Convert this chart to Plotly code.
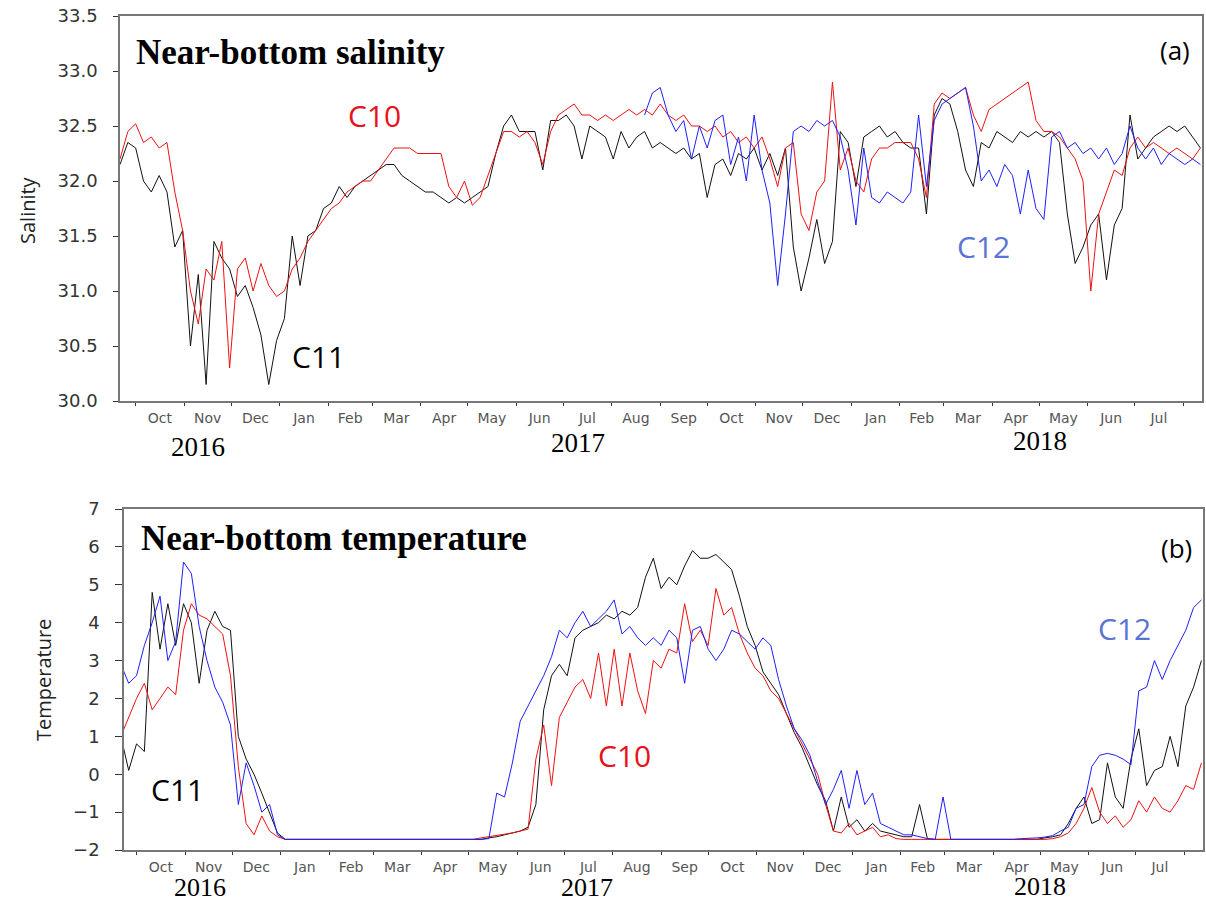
import pandas as pd
import plotly.graph_objects as go

# 5-day samples, starting 2016-09-21
START = "2016-09-21"
STEP = "5D"

SAL_C10 = [
    32.2, 32.45, 32.52, 32.35, 32.4, 32.3, 32.35, 31.9, 31.55, 31.0,
    30.7, 31.2, 31.1, 31.45, 30.3, 31.2, 31.3, 31.0, 31.25, 31.05,
    30.95, 31.0, 31.2, 31.3, 31.45, 31.55, 31.65, 31.75, 31.8, 31.9,
    31.95, 32.0, 32.0, 32.1, 32.2, 32.3, 32.3, 32.3, 32.25, 32.25,
    32.25, 32.25, 31.95, 31.85, 32.0, 31.78, 31.85, 32.05, 32.25, 32.45,
    32.45, 32.4, 32.45, 32.35, 32.15, 32.45, 32.6, 32.65, 32.7, 32.6,
    32.6, 32.55, 32.6, 32.55, 32.6, 32.65, 32.6, 32.65, 32.6, 32.7,
    32.6, 32.55, 32.6, 32.5, 32.5, 32.45, 32.5, 32.4, 32.45, 32.35,
    32.4, 32.3, 32.4, 32.2, 31.95, 32.3, 32.35, 31.7, 31.55, 31.9,
    32.0, 32.9, 32.1, 32.3, 32.0, 31.9, 32.2, 32.3, 32.3, 32.35,
    32.35, 32.35, 32.2, 31.85, 32.7, 32.8, 32.75, 32.8, 32.85, 32.6,
    32.45, 32.65, 32.7, 32.75, 32.8, 32.85, 32.9, 32.55, 32.45, 32.45,
    32.4, 32.3, 32.2, 32.0, 31.0, 31.7, 31.9, 32.1, 32.05, 32.3,
    32.4, 32.3, 32.35, 32.3, 32.25, 32.3, 32.25, 32.2, 32.3,
]

SAL_C11 = [
    32.15, 32.35, 32.3, 32.0, 31.9, 32.05, 31.9, 31.4, 31.55, 30.5,
    31.15, 30.15, 31.45, 31.3, 31.2, 30.95, 31.05, 30.85, 30.6, 30.15,
    30.55, 30.75, 31.5, 31.05, 31.5, 31.55, 31.75, 31.8, 31.95, 31.85,
    31.95, 32.0, 32.05, 32.1, 32.15, 32.15, 32.05, 32.0, 31.95, 31.9,
    31.9, 31.85, 31.8, 31.85, 31.8, 31.85, 31.9, 31.95, 32.25, 32.5,
    32.6, 32.45, 32.45, 32.45, 32.1, 32.55, 32.55, 32.6, 32.5, 32.2,
    32.5, 32.45, 32.4, 32.2, 32.45, 32.3, 32.4, 32.45, 32.3, 32.35,
    32.3, 32.25, 32.3, 32.2, 32.25, 31.85, 32.15, 32.2, 32.05, 32.25,
    32.2, 32.3, 32.1, 32.25, 32.05, 32.3, 31.4, 31.0, 31.3, 31.65,
    31.25, 31.45, 32.45, 32.35, 31.95, 32.4, 32.45, 32.5, 32.4, 32.45,
    32.35, 32.3, 32.3, 31.7, 32.6, 32.75, 32.7, 32.45, 32.1, 31.95,
    32.35, 32.3, 32.45, 32.4, 32.35, 32.45, 32.4, 32.45, 32.4, 32.45,
    32.35, 31.7, 31.25, 31.4, 31.6, 31.7, 31.1, 31.6, 31.75, 32.6,
    32.2, 32.3, 32.4, 32.45, 32.5, 32.45, 32.5, 32.4, 32.3,
]

# C12 salinity has no record before Aug 2017
SAL_C12 = [None] * 67 + [
    32.6, 32.8, 32.85,
    32.6, 32.45, 32.55, 32.2, 32.5, 32.3, 32.55, 32.6, 32.15, 32.4,
    32.0, 32.6, 32.1, 31.8, 31.05, 31.7, 32.45, 32.5, 32.45, 32.55,
    32.5, 32.55, 32.4, 32.1, 31.6, 32.3, 31.85, 31.8, 31.9, 31.85,
    31.8, 31.9, 32.6, 31.95, 32.55, 32.7, 32.75, 32.8, 32.85, 32.5,
    32.0, 32.1, 31.95, 32.15, 32.05, 31.7, 32.1, 31.75, 31.65, 32.4,
    32.45, 32.3, 32.35, 32.25, 32.3, 32.2, 32.3, 32.15, 32.25, 32.5,
    32.3, 32.2, 32.3, 32.15, 32.25, 32.2, 32.15, 32.2, 32.15,
]

TMP_C10 = [
    1.0, 1.5, 2.0, 2.4, 1.7, 2.0, 2.3, 2.1, 3.8, 4.5,
    4.2, 4.1, 3.9, 3.7, 2.6, 0.2, -1.3, -1.6, -1.1, -1.5,
    -1.65, -1.72, -1.72, -1.72, -1.72, -1.72, -1.72, -1.72, -1.72, -1.72,
    -1.72, -1.72, -1.72, -1.72, -1.72, -1.72, -1.72, -1.72, -1.72, -1.72,
    -1.72, -1.72, -1.72, -1.72, -1.72, -1.72, -1.68, -1.65, -1.62, -1.6,
    -1.55, -1.5, -1.45, 0.4, 1.3, -0.3, 1.5, 1.9, 2.3, 2.5,
    2.0, 3.2, 1.8, 3.3, 1.8, 3.2, 2.2, 1.6, 3.0, 2.8,
    3.3, 3.2, 4.5, 3.5, 3.8, 3.4, 4.9, 4.2, 4.4, 3.7,
    3.2, 2.8, 2.6, 2.2, 2.0, 1.6, 1.2, 0.8, 0.4, 0.0,
    -0.8, -1.5, -1.55, -1.3, -1.6, -1.5, -1.4, -1.65, -1.6, -1.7,
    -1.72, -1.72, -1.72, -1.72, -1.72, -1.72, -1.72, -1.72, -1.72, -1.72,
    -1.72, -1.72, -1.72, -1.72, -1.72, -1.72, -1.72, -1.72, -1.72, -1.7,
    -1.65, -1.55, -1.3, -0.9, -0.35, -1.0, -1.3, -1.1, -1.4, -1.2,
    -0.7, -1.0, -0.6, -0.9, -1.0, -0.7, -0.3, -0.4, 0.3,
]

TMP_C11 = [
    1.0, 0.1, 0.8, 0.6, 4.8, 3.3, 4.5, 3.4, 4.5, 4.0,
    2.4, 3.8, 4.3, 3.9, 3.8, 1.0, 0.4, 0.0, -0.5, -1.0,
    -1.55, -1.72, -1.72, -1.72, -1.72, -1.72, -1.72, -1.72, -1.72, -1.72,
    -1.72, -1.72, -1.72, -1.72, -1.72, -1.72, -1.72, -1.72, -1.72, -1.72,
    -1.72, -1.72, -1.72, -1.72, -1.72, -1.72, -1.72, -1.68, -1.65, -1.6,
    -1.55, -1.5, -1.4, -0.8, 1.7, 2.6, 2.9, 2.6, 3.6, 3.8,
    3.9, 4.0, 4.2, 4.1, 4.3, 4.2, 4.4, 5.2, 5.7, 4.9,
    5.2, 5.0, 5.5, 5.9, 5.7, 5.7, 5.8, 5.6, 5.4, 4.7,
    3.9, 3.4, 2.7, 2.4, 2.1, 1.6, 1.1, 0.7, 0.2, -0.3,
    -0.7, -1.5, -0.6, -1.4, -1.2, -1.5, -1.3, -1.5, -1.55, -1.6,
    -1.65, -1.65, -0.8, -1.7, -1.72, -1.72, -1.72, -1.72, -1.72, -1.72,
    -1.72, -1.72, -1.72, -1.72, -1.72, -1.72, -1.72, -1.72, -1.68, -1.65,
    -1.6, -1.3, -0.9, -0.6, -1.3, -1.2, 0.3, -0.6, -0.9, 0.4,
    1.2, -0.3, 0.1, 0.2, 1.0, 0.2, 1.8, 2.3, 3.0,
]

TMP_C12 = [
    2.9, 2.4, 2.6, 3.4, 4.0, 4.7, 3.0, 3.5, 5.6, 5.3,
    3.9, 3.0, 2.3, 1.9, 1.3, -0.8, 0.3, -0.3, -1.0, -0.8,
    -1.6, -1.72, -1.72, -1.72, -1.72, -1.72, -1.72, -1.72, -1.72, -1.72,
    -1.72, -1.72, -1.72, -1.72, -1.72, -1.72, -1.72, -1.72, -1.72, -1.72,
    -1.72, -1.72, -1.72, -1.73, -1.73, -1.73, -1.72, -1.7, -0.5, -0.6,
    0.3, 1.4, 1.8, 2.2, 2.6, 3.1, 3.8, 3.6, 4.0, 4.3,
    3.9, 4.1, 4.3, 4.6, 3.7, 3.9, 3.6, 3.4, 3.6, 3.4,
    3.8, 3.6, 2.4, 3.8, 3.9, 3.3, 3.0, 3.3, 3.8, 3.7,
    3.5, 3.3, 3.6, 3.4, 2.5, 1.8, 1.2, 0.9, 0.5, -0.2,
    -0.8, -0.4, 0.1, -0.9, 0.1, -0.8, -0.5, -1.3, -1.4, -1.5,
    -1.6, -1.6, -1.65, -1.7, -1.72, -0.6, -1.72, -1.72, -1.72, -1.72,
    -1.72, -1.72, -1.72, -1.72, -1.72, -1.7, -1.7, -1.68, -1.66, -1.62,
    -1.5, -1.4, -0.9, -0.8, 0.2, 0.5, 0.55, 0.5, 0.4, 0.25,
    2.2, 2.3, 3.0, 2.5, 3.0, 3.4, 3.8, 4.4, 4.6,
]

dates = pd.date_range(START, periods=len(SAL_C10), freq=STEP)

W, H = 1206, 905


def px(x):
    return x / W


def py(y):
    return 1 - y / H


RED = "#ee1111"
BLACK = "#111111"
BLUE = "#1f1fff"

fig = go.Figure()

for vals, color in [(SAL_C11, BLACK), (SAL_C10, RED), (SAL_C12, BLUE)]:
    fig.add_trace(go.Scatter(x=dates, y=vals, mode="lines", xaxis="x", yaxis="y",
                             line=dict(color=color, width=1), showlegend=False,
                             connectgaps=False))

for vals, color in [(TMP_C11, BLACK), (TMP_C10, RED), (TMP_C12, BLUE)]:
    fig.add_trace(go.Scatter(x=dates, y=vals, mode="lines", xaxis="x2", yaxis="y2",
                             line=dict(color=color, width=1), showlegend=False))

tick_font = dict(family="DejaVu Sans", size=14, color="#555")
ytick_font = dict(family="DejaVu Sans", size=18, color="#333")

xcommon = dict(
    type="date", dtick="M1", tick0="2016-10-01", tickformat="%b",
    ticklabelmode="period", ticks="outside", ticklen=3, tickcolor="#333",
    showgrid=False, showline=True, linecolor="#777", linewidth=1.5, mirror=True,
    tickfont=tick_font, zeroline=False, automargin=False,
)
ycommon = dict(
    ticks="outside", tickcolor="#333", showgrid=False, showline=True,
    linecolor="#777", linewidth=1.5, mirror=True, tickfont=ytick_font,
    zeroline=False, ticklabelstandoff=12, automargin=False,
)

fig.update_layout(
    width=W, height=H,
    margin=dict(l=0, r=0, t=0, b=0),
    paper_bgcolor="white", plot_bgcolor="white",
    xaxis=dict(xcommon, domain=[px(120), px(1202)], anchor="y",
               range=["2016-09-21", "2018-08-13"]),
    yaxis=dict(ycommon, domain=[py(401), py(16)], anchor="x", range=[30, 33.5],
               dtick=0.5, tickformat=".1f", ticklen=5),
    xaxis2=dict(xcommon, domain=[px(124), px(1203)], anchor="y2",
                range=["2016-09-23", "2018-08-13"]),
    yaxis2=dict(ycommon, domain=[py(850), py(509)], anchor="x2", range=[-2, 7],
                dtick=1, ticklen=7),
)

serif = "Liberation Serif"
sans = "Open Sans"
notes = [
    ("<b>Near-bottom salinity</b>", 134, 52, "left", dict(family=serif, size=35, color="black"), 0),
    ("(a)", 1192, 50, "right", dict(family=sans, size=26, color="black"), 0),
    ("<b>Near-bottom temperature</b>", 139, 538, "left", dict(family=serif, size=35, color="black"), 0),
    ("(b)", 1194, 548, "right", dict(family=sans, size=26, color="black"), 0),
    ("Salinity", 28, 210, "center", dict(family=sans, size=20, color="#222"), -90),
    ("Temperature", 43, 680, "center", dict(family=sans, size=20, color="#222"), -90),
    ("C10", 375, 115, "center", dict(family=sans, size=30, color="#e8101a"), 0),
    ("C11", 318, 356, "center", dict(family=sans, size=30, color="black"), 0),
    ("C12", 983, 246, "center", dict(family=sans, size=30, color="#5a74d6"), 0),
    ("C12", 1124, 628, "center", dict(family=sans, size=30, color="#5a74d6"), 0),
    ("C10", 624, 755, "center", dict(family=sans, size=30, color="#e8101a"), 0),
    ("C11", 177, 789, "center", dict(family=sans, size=30, color="black"), 0),
    ("2016", 198, 447, "center", dict(family=serif, size=27, color="black"), 0),
    ("2017", 578, 443, "center", dict(family=serif, size=27, color="black"), 0),
    ("2018", 1040, 441, "center", dict(family=serif, size=27, color="black"), 0),
    ("2016", 200, 887, "center", dict(family=serif, size=26, color="black"), 0),
    ("2017", 587, 887, "center", dict(family=serif, size=26, color="black"), 0),
    ("2018", 1040, 886, "center", dict(family=serif, size=26, color="black"), 0),
]
for text, x, y, anchor, font, angle in notes:
    fig.add_annotation(text=text, x=px(x), y=py(y), xref="paper", yref="paper",
                       xanchor=anchor, yanchor="middle", showarrow=False,
                       font=font, textangle=angle)

# the page's default body margin would push the figure 8px down and right
fig.write_html("out.html", config={"displayModeBar": False},
               post_script="document.body.style.margin='0';")
